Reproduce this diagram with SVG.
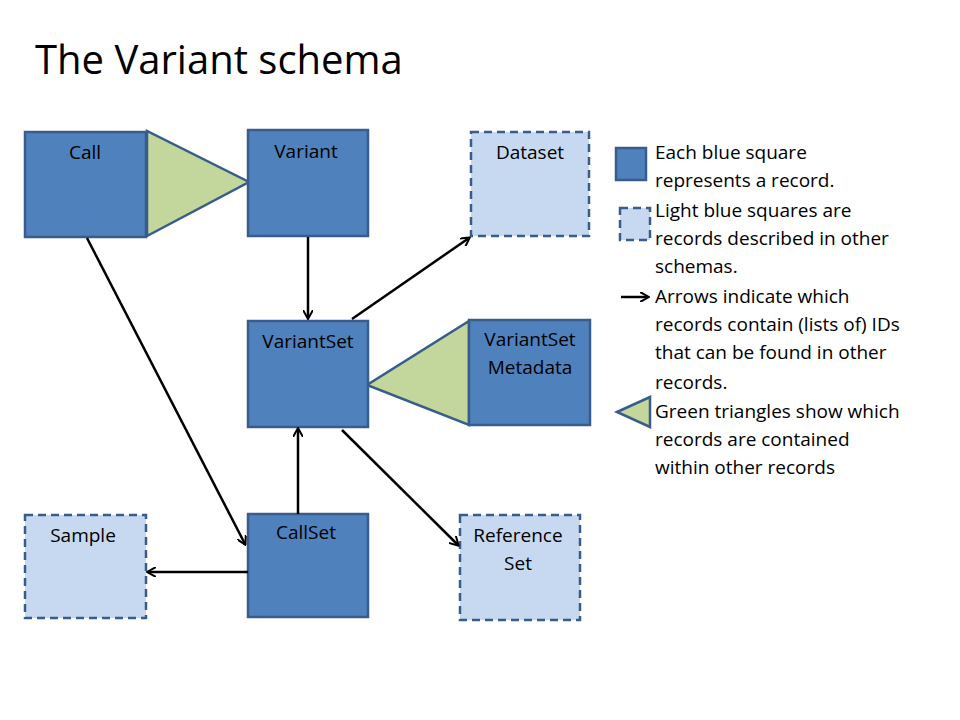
<svg xmlns="http://www.w3.org/2000/svg" width="960" height="720" viewBox="0 0 960 720">
<style>
text{font-family:"Open Sans","Liberation Sans",sans-serif;fill:#000}
.n{fill:#4f81bd;stroke:#385d8a;stroke-width:2.5}
.d{fill:#c6d9f1;stroke:#385d8a;stroke-width:2.5;stroke-dasharray:8,5}
.t{fill:#c3d69b;stroke:#385d8a;stroke-width:2.5}
.l{font-size:19px;text-anchor:middle}
.g{font-size:19px}
.c{stroke:#000;stroke-width:2.5;fill:none;marker-end:url(#a)}
</style>
<defs><marker id="a" markerWidth="10" markerHeight="10" refX="8" refY="5" orient="auto" markerUnits="userSpaceOnUse"><path d="M0,0 L9,5 L0,10" fill="none" stroke="#000" stroke-width="2"/></marker></defs>
<rect width="960" height="720" fill="#fff"/>
<text x="35" y="74" style="font-size:40px">The Variant schema</text>
<g id="tri1"><polygon class="t" points="147,131 147,236 249,182"/></g>
<g id="tri2"><polygon class="t" points="469,321 469,425 367,385"/></g>
<g id="call"><rect class="n" x="25" y="132" width="121" height="105"/><text class="l" x="85" y="159">Call</text></g>
<g id="variant"><rect class="n" x="248" y="130" width="120" height="106"/><text class="l" x="306" y="158">Variant</text></g>
<g id="dataset"><rect class="d" x="471" y="132" width="118" height="104"/><text class="l" x="530" y="159">Dataset</text></g>
<g id="variantset"><rect class="n" x="248" y="321" width="120" height="106"/><text class="l" x="308" y="348">VariantSet</text></g>
<g id="vsmeta"><rect class="n" x="469" y="320" width="121" height="105"/><text class="l" x="530" y="346">VariantSet</text><text class="l" x="530" y="374">Metadata</text></g>
<g id="sample"><rect class="d" x="25" y="515" width="121" height="103"/><text class="l" x="83" y="542">Sample</text></g>
<g id="callset"><rect class="n" x="248" y="514" width="120" height="103"/><text class="l" x="306" y="539">CallSet</text></g>
<g id="refset"><rect class="d" x="460" y="515" width="120" height="105"/><text class="l" x="518" y="542">Reference</text><text class="l" x="518" y="570">Set</text></g>
<g id="connectors">
<line class="c" x1="308" y1="237" x2="308" y2="318"/>
<line class="c" x1="352" y1="319" x2="469" y2="238"/>
<line class="c" x1="87" y1="238" x2="245" y2="544"/>
<line class="c" x1="298" y1="514" x2="298" y2="429"/>
<line class="c" x1="248" y1="572" x2="148" y2="572"/>
<line class="c" x1="342" y1="430" x2="458" y2="545"/>
</g>
<g id="legend">
<rect class="n" x="616" y="148" width="30" height="32"/>
<rect class="d" x="620" y="208" width="30" height="32"/>
<line class="c" x1="621" y1="297" x2="648" y2="297"/>
<polygon class="t" points="617,412 650,397 650,427"/>
<text class="g" x="655" y="159">Each blue square</text>
<text class="g" x="655" y="187">represents a record.</text>
<text class="g" x="655" y="217">Light blue squares are</text>
<text class="g" x="655" y="245">records described in other</text>
<text class="g" x="655" y="273">schemas.</text>
<text class="g" x="655" y="303">Arrows indicate which</text>
<text class="g" x="655" y="331">records contain (lists of) IDs</text>
<text class="g" x="655" y="359">that can be found in other</text>
<text class="g" x="655" y="389">records.</text>
<text class="g" x="655" y="418">Green triangles show which</text>
<text class="g" x="655" y="446">records are contained</text>
<text class="g" x="655" y="474">within other records</text>
</g>
</svg>
